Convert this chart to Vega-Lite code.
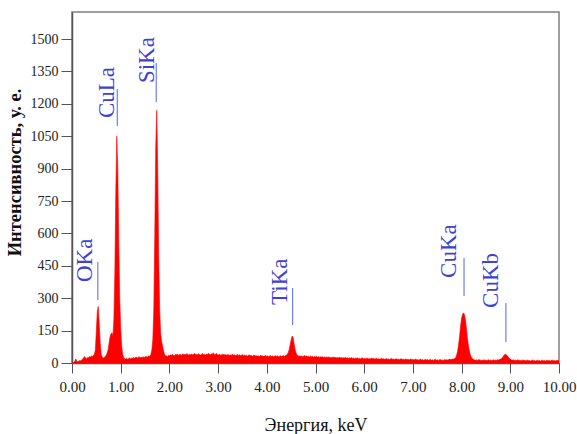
{
  "$schema": "https://vega.github.io/schema/vega-lite/v6.json",
  "width": 487,
  "height": 351,
  "autosize": {"type": "none"},
  "padding": {"left": 72, "top": 12, "right": 18, "bottom": 71},
  "background": "white",
  "config": {
    "view": {"stroke": "#808080", "strokeWidth": 1.5},
    "font": "Liberation Serif",
    "axis": {"labelOverlap": false, "labelFlush": false, "grid": false, "tickColor": "#555555", "domainColor": "#555555", "domainWidth": 1.5, "labelFont": "Liberation Serif", "labelColor": "#222222", "titleFont": "Liberation Serif", "titleColor": "#111111"},
    "axisX": {"values": [0,1,2,3,4,5,6,7,8,9,10], "format": ".2f", "tickSize": 10, "labelPadding": 6, "labelFontSize": 15, "titleFontSize": 18, "titleFontWeight": "normal", "titlePadding": 22},
    "axisY": {"values": [0,150,300,450,600,750,900,1050,1200,1350,1500], "format": "d", "tickSize": 11, "labelPadding": 3, "labelFontSize": 14, "titleFontSize": 18.5, "titleFontWeight": "bold", "titlePadding": 6, "titleY": 160}
  },
  "layer": [
    {
      "data": {"values": [
        {"E":0.00,"I":0},{"E":0.02,"I":0},{"E":0.04,"I":2},{"E":0.06,"I":10},{"E":0.08,"I":18},{"E":0.10,"I":8},{"E":0.12,"I":6},{"E":0.14,"I":9},{"E":0.16,"I":12},{"E":0.18,"I":10},
        {"E":0.20,"I":14},{"E":0.22,"I":18},{"E":0.24,"I":25},{"E":0.26,"I":30},{"E":0.28,"I":22},{"E":0.30,"I":20},{"E":0.32,"I":26},{"E":0.34,"I":24},{"E":0.36,"I":30},{"E":0.38,"I":28},
        {"E":0.40,"I":32},{"E":0.42,"I":30},{"E":0.44,"I":36},{"E":0.46,"I":40},{"E":0.48,"I":60},{"E":0.50,"I":150},{"E":0.52,"I":240},{"E":0.54,"I":262},{"E":0.56,"I":180},{"E":0.58,"I":90},
        {"E":0.60,"I":40},{"E":0.62,"I":28},{"E":0.64,"I":22},{"E":0.66,"I":25},{"E":0.68,"I":30},{"E":0.70,"I":35},{"E":0.72,"I":45},{"E":0.74,"I":60},{"E":0.76,"I":90},{"E":0.78,"I":120},
        {"E":0.80,"I":135},{"E":0.82,"I":140},{"E":0.84,"I":125},{"E":0.86,"I":200},{"E":0.88,"I":420},{"E":0.90,"I":800},{"E":0.92,"I":1050},{"E":0.94,"I":900},{"E":0.96,"I":560},{"E":0.98,"I":300},
        {"E":1.00,"I":160},{"E":1.02,"I":80},{"E":1.04,"I":40},{"E":1.06,"I":26},{"E":1.08,"I":20},{"E":1.10,"I":18},{"E":1.12,"I":22},{"E":1.14,"I":17},{"E":1.16,"I":20},{"E":1.18,"I":24},
        {"E":1.20,"I":19},{"E":1.22,"I":23},{"E":1.24,"I":21},{"E":1.26,"I":26},{"E":1.28,"I":22},{"E":1.30,"I":25},{"E":1.32,"I":28},{"E":1.34,"I":23},{"E":1.36,"I":26},{"E":1.38,"I":30},
        {"E":1.40,"I":24},{"E":1.42,"I":27},{"E":1.44,"I":25},{"E":1.46,"I":29},{"E":1.48,"I":26},{"E":1.50,"I":28},{"E":1.52,"I":31},{"E":1.54,"I":27},{"E":1.56,"I":30},{"E":1.58,"I":33},
        {"E":1.60,"I":30},{"E":1.62,"I":40},{"E":1.64,"I":60},{"E":1.66,"I":110},{"E":1.68,"I":250},{"E":1.70,"I":600},{"E":1.72,"I":1000},{"E":1.74,"I":1170},{"E":1.76,"I":900},{"E":1.78,"I":500},
        {"E":1.80,"I":250},{"E":1.82,"I":140},{"E":1.84,"I":100},{"E":1.86,"I":80},{"E":1.88,"I":55},{"E":1.90,"I":40},{"E":1.92,"I":32},{"E":1.94,"I":34},{"E":1.96,"I":30},{"E":1.98,"I":36},
        {"E":2.00,"I":33},{"E":2.02,"I":38},{"E":2.04,"I":35},{"E":2.06,"I":40},{"E":2.08,"I":36},{"E":2.10,"I":34},{"E":2.12,"I":39},{"E":2.14,"I":37},{"E":2.16,"I":42},{"E":2.18,"I":36},
        {"E":2.20,"I":38},{"E":2.22,"I":41},{"E":2.24,"I":35},{"E":2.26,"I":39},{"E":2.28,"I":43},{"E":2.30,"I":37},{"E":2.32,"I":40},{"E":2.34,"I":38},{"E":2.36,"I":44},{"E":2.38,"I":39},
        {"E":2.40,"I":36},{"E":2.42,"I":41},{"E":2.44,"I":38},{"E":2.46,"I":42},{"E":2.48,"I":37},{"E":2.50,"I":40},{"E":2.52,"I":45},{"E":2.54,"I":38},{"E":2.56,"I":41},{"E":2.58,"I":37},
        {"E":2.60,"I":43},{"E":2.62,"I":39},{"E":2.64,"I":36},{"E":2.66,"I":40},{"E":2.68,"I":44},{"E":2.70,"I":38},{"E":2.72,"I":41},{"E":2.74,"I":37},{"E":2.76,"I":42},{"E":2.78,"I":39},
        {"E":2.80,"I":45},{"E":2.82,"I":40},{"E":2.84,"I":37},{"E":2.86,"I":43},{"E":2.88,"I":39},{"E":2.90,"I":48},{"E":2.92,"I":41},{"E":2.94,"I":38},{"E":2.96,"I":44},{"E":2.98,"I":40},
        {"E":3.00,"I":36},{"E":3.02,"I":41},{"E":3.04,"I":38},{"E":3.06,"I":35},{"E":3.08,"I":40},{"E":3.10,"I":37},{"E":3.12,"I":42},{"E":3.14,"I":36},{"E":3.16,"I":39},{"E":3.18,"I":35},
        {"E":3.20,"I":40},{"E":3.22,"I":37},{"E":3.24,"I":34},{"E":3.26,"I":39},{"E":3.28,"I":36},{"E":3.30,"I":41},{"E":3.32,"I":35},{"E":3.34,"I":38},{"E":3.36,"I":34},{"E":3.38,"I":37},
        {"E":3.40,"I":40},{"E":3.42,"I":35},{"E":3.44,"I":38},{"E":3.46,"I":33},{"E":3.48,"I":36},{"E":3.50,"I":39},{"E":3.52,"I":34},{"E":3.54,"I":37},{"E":3.56,"I":33},{"E":3.58,"I":36},
        {"E":3.60,"I":32},{"E":3.62,"I":35},{"E":3.64,"I":38},{"E":3.66,"I":33},{"E":3.68,"I":36},{"E":3.70,"I":31},{"E":3.72,"I":34},{"E":3.74,"I":37},{"E":3.76,"I":32},{"E":3.78,"I":35},
        {"E":3.80,"I":31},{"E":3.82,"I":34},{"E":3.84,"I":30},{"E":3.86,"I":33},{"E":3.88,"I":36},{"E":3.90,"I":31},{"E":3.92,"I":34},{"E":3.94,"I":30},{"E":3.96,"I":33},{"E":3.98,"I":35},
        {"E":4.00,"I":30},{"E":4.02,"I":33},{"E":4.04,"I":29},{"E":4.06,"I":32},{"E":4.08,"I":35},{"E":4.10,"I":30},{"E":4.12,"I":33},{"E":4.14,"I":29},{"E":4.16,"I":32},{"E":4.18,"I":34},
        {"E":4.20,"I":30},{"E":4.22,"I":33},{"E":4.24,"I":29},{"E":4.26,"I":31},{"E":4.28,"I":34},{"E":4.30,"I":30},{"E":4.32,"I":32},{"E":4.34,"I":35},{"E":4.36,"I":31},{"E":4.38,"I":34},
        {"E":4.40,"I":36},{"E":4.42,"I":40},{"E":4.44,"I":48},{"E":4.46,"I":62},{"E":4.48,"I":85},{"E":4.50,"I":108},{"E":4.52,"I":125},{"E":4.54,"I":118},{"E":4.56,"I":90},{"E":4.58,"I":64},
        {"E":4.60,"I":46},{"E":4.62,"I":38},{"E":4.64,"I":34},{"E":4.66,"I":31},{"E":4.68,"I":34},{"E":4.70,"I":30},{"E":4.72,"I":33},{"E":4.74,"I":29},{"E":4.76,"I":32},{"E":4.78,"I":35},
        {"E":4.80,"I":30},{"E":4.82,"I":33},{"E":4.84,"I":29},{"E":4.86,"I":31},{"E":4.88,"I":28},{"E":4.90,"I":32},{"E":4.92,"I":29},{"E":4.94,"I":31},{"E":4.96,"I":27},{"E":4.98,"I":30},
        {"E":5.00,"I":28},{"E":5.02,"I":31},{"E":5.04,"I":27},{"E":5.06,"I":30},{"E":5.08,"I":26},{"E":5.10,"I":29},{"E":5.12,"I":27},{"E":5.14,"I":30},{"E":5.16,"I":26},{"E":5.18,"I":28},
        {"E":5.20,"I":25},{"E":5.22,"I":28},{"E":5.24,"I":26},{"E":5.26,"I":29},{"E":5.28,"I":25},{"E":5.30,"I":27},{"E":5.32,"I":24},{"E":5.34,"I":27},{"E":5.36,"I":25},{"E":5.38,"I":28},
        {"E":5.40,"I":24},{"E":5.42,"I":26},{"E":5.44,"I":23},{"E":5.46,"I":26},{"E":5.48,"I":24},{"E":5.50,"I":27},{"E":5.52,"I":23},{"E":5.54,"I":25},{"E":5.56,"I":22},{"E":5.58,"I":25},
        {"E":5.60,"I":23},{"E":5.62,"I":26},{"E":5.64,"I":22},{"E":5.66,"I":24},{"E":5.68,"I":21},{"E":5.70,"I":24},{"E":5.72,"I":22},{"E":5.74,"I":25},{"E":5.76,"I":21},{"E":5.78,"I":23},
        {"E":5.80,"I":20},{"E":5.82,"I":23},{"E":5.84,"I":21},{"E":5.86,"I":24},{"E":5.88,"I":20},{"E":5.90,"I":22},{"E":5.92,"I":19},{"E":5.94,"I":22},{"E":5.96,"I":24},{"E":5.98,"I":20},
        {"E":6.00,"I":22},{"E":6.02,"I":19},{"E":6.04,"I":21},{"E":6.06,"I":23},{"E":6.08,"I":19},{"E":6.10,"I":21},{"E":6.12,"I":18},{"E":6.14,"I":21},{"E":6.16,"I":23},{"E":6.18,"I":19},
        {"E":6.20,"I":21},{"E":6.22,"I":18},{"E":6.24,"I":20},{"E":6.26,"I":22},{"E":6.28,"I":18},{"E":6.30,"I":20},{"E":6.32,"I":17},{"E":6.34,"I":20},{"E":6.36,"I":22},{"E":6.38,"I":18},
        {"E":6.40,"I":20},{"E":6.42,"I":17},{"E":6.44,"I":19},{"E":6.46,"I":21},{"E":6.48,"I":17},{"E":6.50,"I":19},{"E":6.52,"I":16},{"E":6.54,"I":19},{"E":6.56,"I":21},{"E":6.58,"I":17},
        {"E":6.60,"I":19},{"E":6.62,"I":16},{"E":6.64,"I":18},{"E":6.66,"I":20},{"E":6.68,"I":16},{"E":6.70,"I":18},{"E":6.72,"I":15},{"E":6.74,"I":18},{"E":6.76,"I":20},{"E":6.78,"I":16},
        {"E":6.80,"I":18},{"E":6.82,"I":15},{"E":6.84,"I":17},{"E":6.86,"I":19},{"E":6.88,"I":15},{"E":6.90,"I":17},{"E":6.92,"I":14},{"E":6.94,"I":17},{"E":6.96,"I":19},{"E":6.98,"I":15},
        {"E":7.00,"I":17},{"E":7.02,"I":14},{"E":7.04,"I":16},{"E":7.06,"I":18},{"E":7.08,"I":14},{"E":7.10,"I":16},{"E":7.12,"I":13},{"E":7.14,"I":16},{"E":7.16,"I":18},{"E":7.18,"I":14},
        {"E":7.20,"I":16},{"E":7.22,"I":13},{"E":7.24,"I":15},{"E":7.26,"I":17},{"E":7.28,"I":14},{"E":7.30,"I":16},{"E":7.32,"I":13},{"E":7.34,"I":15},{"E":7.36,"I":17},{"E":7.38,"I":13},
        {"E":7.40,"I":15},{"E":7.42,"I":12},{"E":7.44,"I":15},{"E":7.46,"I":17},{"E":7.48,"I":13},{"E":7.50,"I":15},{"E":7.52,"I":12},{"E":7.54,"I":14},{"E":7.56,"I":16},{"E":7.58,"I":13},
        {"E":7.60,"I":15},{"E":7.62,"I":12},{"E":7.64,"I":14},{"E":7.66,"I":16},{"E":7.68,"I":13},{"E":7.70,"I":15},{"E":7.72,"I":14},{"E":7.74,"I":16},{"E":7.76,"I":18},{"E":7.78,"I":15},
        {"E":7.80,"I":17},{"E":7.82,"I":19},{"E":7.84,"I":18},{"E":7.86,"I":21},{"E":7.88,"I":25},{"E":7.90,"I":38},{"E":7.92,"I":58},{"E":7.94,"I":88},{"E":7.96,"I":128},{"E":7.98,"I":172},
        {"E":8.00,"I":208},{"E":8.02,"I":226},{"E":8.04,"I":232},{"E":8.06,"I":224},{"E":8.08,"I":198},{"E":8.10,"I":160},{"E":8.12,"I":115},{"E":8.14,"I":80},{"E":8.16,"I":55},{"E":8.18,"I":38},
        {"E":8.20,"I":27},{"E":8.22,"I":21},{"E":8.24,"I":17},{"E":8.26,"I":15},{"E":8.28,"I":13},{"E":8.30,"I":15},{"E":8.32,"I":12},{"E":8.34,"I":14},{"E":8.36,"I":16},{"E":8.38,"I":12},
        {"E":8.40,"I":14},{"E":8.42,"I":11},{"E":8.44,"I":13},{"E":8.46,"I":15},{"E":8.48,"I":12},{"E":8.50,"I":14},{"E":8.52,"I":11},{"E":8.54,"I":13},{"E":8.56,"I":15},{"E":8.58,"I":12},
        {"E":8.60,"I":14},{"E":8.62,"I":11},{"E":8.64,"I":13},{"E":8.66,"I":15},{"E":8.68,"I":12},{"E":8.70,"I":14},{"E":8.72,"I":13},{"E":8.74,"I":15},{"E":8.76,"I":14},{"E":8.78,"I":16},
        {"E":8.80,"I":18},{"E":8.82,"I":21},{"E":8.84,"I":26},{"E":8.86,"I":32},{"E":8.88,"I":38},{"E":8.90,"I":41},{"E":8.92,"I":38},{"E":8.94,"I":33},{"E":8.96,"I":27},{"E":8.98,"I":22},
        {"E":9.00,"I":18},{"E":9.02,"I":15},{"E":9.04,"I":13},{"E":9.06,"I":15},{"E":9.08,"I":12},{"E":9.10,"I":14},{"E":9.12,"I":11},{"E":9.14,"I":13},{"E":9.16,"I":15},{"E":9.18,"I":11},
        {"E":9.20,"I":13},{"E":9.22,"I":10},{"E":9.24,"I":12},{"E":9.26,"I":14},{"E":9.28,"I":11},{"E":9.30,"I":13},{"E":9.32,"I":10},{"E":9.34,"I":12},{"E":9.36,"I":14},{"E":9.38,"I":10},
        {"E":9.40,"I":12},{"E":9.42,"I":9},{"E":9.44,"I":12},{"E":9.46,"I":14},{"E":9.48,"I":10},{"E":9.50,"I":12},{"E":9.52,"I":9},{"E":9.54,"I":11},{"E":9.56,"I":13},{"E":9.58,"I":10},
        {"E":9.60,"I":12},{"E":9.62,"I":9},{"E":9.64,"I":11},{"E":9.66,"I":13},{"E":9.68,"I":10},{"E":9.70,"I":12},{"E":9.72,"I":9},{"E":9.74,"I":11},{"E":9.76,"I":13},{"E":9.78,"I":10},
        {"E":9.80,"I":12},{"E":9.82,"I":9},{"E":9.84,"I":11},{"E":9.86,"I":14},{"E":9.88,"I":10},{"E":9.90,"I":12},{"E":9.92,"I":9},{"E":9.94,"I":11},{"E":9.96,"I":13},{"E":9.98,"I":10},
        {"E":10.00,"I":11}
      ]},
      "mark": {"type": "area", "color": "#ff0000", "stroke": "#ff0000", "strokeWidth": 0.6, "clip": true},
      "encoding": {
        "x": {
          "field": "E", "type": "quantitative",
          "scale": {"domain": [0, 10], "nice": false, "zero": false},
          "axis": {"title": "Энергия, keV", "labelOverlap": false, "values": [0,1,2,3,4,5,6,7,8,9,10]}
        },
        "y": {
          "field": "I", "type": "quantitative",
          "scale": {"domain": [0, 1625], "nice": false},
          "axis": {"title": "Интенсивность, у. е.", "labelOverlap": false, "values": [0,150,300,450,600,750,900,1050,1200,1350,1500]}
        }
      }
    },
    {
      "data": {"values": [
        {"line":"OKa","lx":0.53,"ly1":292,"ly2":468,"tx":0.27,"ty":375},
        {"line":"CuLa","lx":0.93,"ly1":1097,"ly2":1269,"tx":0.72,"ty":1134},
        {"line":"SiKa","lx":1.73,"ly1":1208,"ly2":1389,"tx":1.54,"ty":1296},
        {"line":"TiKa","lx":4.53,"ly1":176,"ly2":347,"tx":4.28,"ty":269},
        {"line":"CuKa","lx":8.05,"ly1":310,"ly2":486,"tx":7.75,"ty":394},
        {"line":"CuKb","lx":8.91,"ly1":97,"ly2":278,"tx":8.61,"ty":255}
      ]},
      "layer": [
        {
          "mark": {"type": "rule", "color": "#6f7fe6", "strokeWidth": 1.2},
          "encoding": {
            "x": {"field": "lx", "type": "quantitative", "axis": {"title": "Энергия, keV", "labelOverlap": false, "values": [0,1,2,3,4,5,6,7,8,9,10]}},
            "y": {"field": "ly1", "type": "quantitative", "axis": {"title": "Интенсивность, у. е.", "labelOverlap": false, "values": [0,150,300,450,600,750,900,1050,1200,1350,1500]}},
            "y2": {"field": "ly2"}
          }
        },
        {
          "mark": {"type": "text", "angle": 270, "align": "left", "baseline": "middle", "font": "Liberation Serif", "fontSize": 23, "color": "#4040d8"},
          "encoding": {
            "x": {"field": "tx", "type": "quantitative", "axis": {"title": "Энергия, keV", "labelOverlap": false, "values": [0,1,2,3,4,5,6,7,8,9,10]}},
            "y": {"field": "ty", "type": "quantitative", "axis": {"title": "Интенсивность, у. е.", "labelOverlap": false, "values": [0,150,300,450,600,750,900,1050,1200,1350,1500]}},
            "text": {"field": "line"}
          }
        }
      ]
    }
  ]
}
